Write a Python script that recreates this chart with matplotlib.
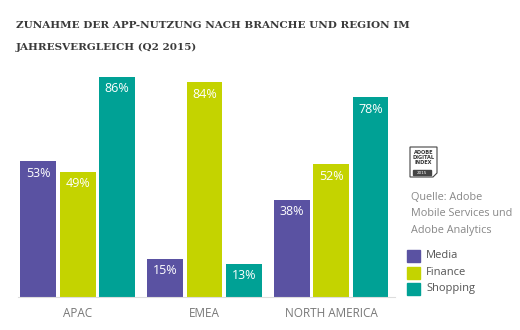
import matplotlib
matplotlib.use("Agg")
import matplotlib.pyplot as plt
import numpy as np
from matplotlib.patches import Rectangle, Polygon

regions = ["APAC", "EMEA", "NORTH AMERICA"]
series = ["Media", "Finance", "Shopping"]
media = [53, 15, 38]
finance = [49, 84, 52]
shopping = [86, 13, 78]
colors = ["#5a52a2", "#c4d300", "#00a195"]

title_lines = ["ZUNAHME DER APP-NUTZUNG NACH BRANCHE UND REGION IM",
               "JAHRESVERGLEICH (Q2 2015)"]
source_lines = ["Quelle: Adobe", "Mobile Services und", "Adobe Analytics"]

W, H = 520, 330
fig = plt.figure(figsize=(W / 100, H / 100), dpi=100)

# axes placed in pixel terms: x 18..395, baseline at y=297
ax = fig.add_axes([18 / W, (H - 297) / H, 377 / W, 237 / H])
ax.set_xlim(-0.472, 2.504)
ax.set_ylim(0, 237 / 2.56)

x = np.arange(len(regions))
offset = 0.311
width = 0.283
for i, (vals, c) in enumerate(zip([media, finance, shopping], colors)):
    xs = x + (i - 1) * offset
    ax.bar(xs, vals, width=width, color=c, label=series[i])
    for xi, v in zip(xs, vals):
        ax.text(xi, v - 2.2, f"{v}%", ha="center", va="top", color="white",
                fontsize=9, family="Open Sans", fontweight="medium")

for s in ["top", "right", "left"]:
    ax.spines[s].set_visible(False)
ax.spines["bottom"].set_color("#dddddd")
ax.spines["bottom"].set_linewidth(0.8)
ax.set_yticks([])
ax.set_xticks(x)
ax.set_xticklabels(regions, family="Open Sans", fontsize=8.5, color="#777777")
ax.tick_params(axis="x", length=0, pad=7)

for k, line in enumerate(title_lines):
    fig.text(16 / W, 1 - (27.5 + 22 * k) / H, line, ha="left", va="baseline",
             fontsize=7.5, family="DejaVu Serif", fontweight="bold", color="#3a3a3a")

# badge
bx, by, bw, bh = 410, 147, 27, 30
fig.patches.append(Polygon([[bx / W, 1 - by / H], [(bx + bw) / W, 1 - by / H],
                            [(bx + bw) / W, 1 - (by + bh - 4) / H],
                            [(bx + bw - 4) / W, 1 - (by + bh) / H],
                            [bx / W, 1 - (by + bh) / H]], closed=True,
                           fill=False, edgecolor="#444444", linewidth=0.8,
                           transform=fig.transFigure))
fig.text((bx + bw / 2) / W, 1 - (by + 3) / H, "ADOBE\nDIGITAL\nINDEX", ha="center", va="top",
         fontsize=3.6, fontweight="bold", color="#333333", family="DejaVu Sans",
         linespacing=1.0)
fig.patches.append(Rectangle(((bx + 3) / W, 1 - (by + bh - 2) / H), 18 / W, 5 / H,
                             color="#444444", transform=fig.transFigure))
fig.text((bx + 12) / W, 1 - (by + bh - 4.5) / H, "2015", ha="center", va="center",
         fontsize=3, color="white", family="DejaVu Sans")

for k, line in enumerate(source_lines):
    fig.text(411 / W, 1 - (198 + 16 * k) / H, line, ha="left", va="center",
             fontsize=7.8, family="Open Sans", color="#888888")

for i, (s, c) in enumerate(zip(series, colors)):
    y = 250 + i * 16.5
    fig.patches.append(Rectangle((407 / W, 1 - (y + 12) / H), 13 / W, 12 / H,
                                 color=c, transform=fig.transFigure))
    fig.text(426 / W, 1 - (y + 6) / H, s, ha="left", va="center", fontsize=8,
             family="Open Sans", color="#555555")

fig.savefig("out.png", dpi=100)
